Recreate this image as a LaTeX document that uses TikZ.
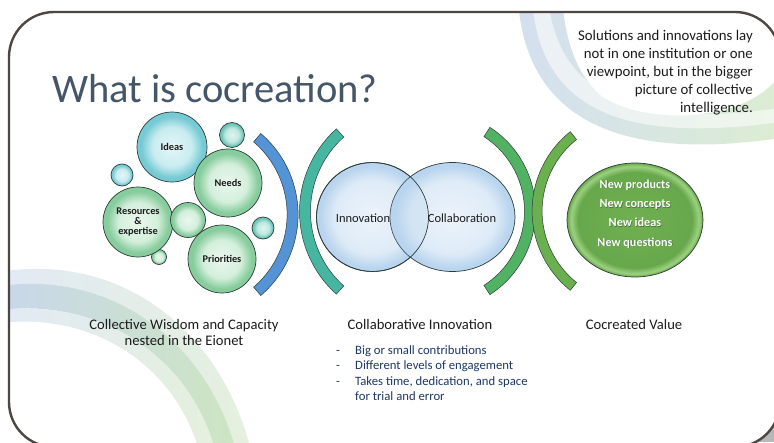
\documentclass[tikz,border=0pt]{standalone}
\usepackage{fontspec}
\setmainfont{Carlito}
\usetikzlibrary{shapes.geometric}
\definecolor{framec}{RGB}{77,70,66}
\definecolor{titlec}{RGB}{68,86,104}
\definecolor{navy}{RGB}{31,56,100}
\definecolor{txt}{RGB}{28,28,28}
\definecolor{edgec}{RGB}{45,62,58}
\definecolor{gA}{RGB}{234,247,238}
\definecolor{gB}{RGB}{212,239,220}
\definecolor{gC}{RGB}{134,204,156}
\definecolor{cA}{RGB}{228,246,248}
\definecolor{cB}{RGB}{200,236,240}
\definecolor{cC}{RGB}{118,202,212}
\definecolor{tA}{RGB}{224,245,241}
\definecolor{tB}{RGB}{190,232,224}
\definecolor{tC}{RGB}{108,196,182}
\definecolor{vA}{RGB}{236,243,251}
\definecolor{vB}{RGB}{222,235,247}
\definecolor{vC}{RGB}{184,212,238}
\definecolor{valA}{RGB}{112,176,82}
\definecolor{valB}{RGB}{104,168,76}
\definecolor{valC}{RGB}{156,208,128}
\definecolor{arcblue}{RGB}{84,148,214}
\definecolor{arcteal}{RGB}{70,182,160}
\definecolor{arcgreenA}{RGB}{82,178,100}
\definecolor{arcgreenB}{RGB}{106,176,78}
\definecolor{swb}{RGB}{226,234,245}
\definecolor{swbd}{RGB}{200,215,235}
\definecolor{swg}{RGB}{229,240,222}
\definecolor{swgd}{RGB}{205,229,194}
\definecolor{trb}{RGB}{212,223,239}
\definecolor{trg}{RGB}{220,237,211}
\pgfdeclareradialshading{bubG}{\pgfpointorigin}{color(0bp)=(gA); color(14bp)=(gB); color(22bp)=(gC); color(25bp)=(gC); color(50bp)=(gC)}
\pgfdeclareradialshading{bubC}{\pgfpointorigin}{color(0bp)=(cA); color(14bp)=(cB); color(22bp)=(cC); color(25bp)=(cC); color(50bp)=(cC)}
\pgfdeclareradialshading{bubT}{\pgfpointorigin}{color(0bp)=(tA); color(14bp)=(tB); color(22bp)=(tC); color(25bp)=(tC); color(50bp)=(tC)}
\pgfdeclareradialshading{vennS}{\pgfpointorigin}{color(0bp)=(vA); color(17bp)=(vB); color(23.5bp)=(vC); color(25bp)=(vC); color(50bp)=(vC)}
\pgfdeclareradialshading{valS}{\pgfpointorigin}{color(0bp)=(valA); color(21bp)=(valB); color(23.5bp)=(valC); color(25bp)=(valB); color(50bp)=(valB)}
\tikzset{
  bub/.style={circle, draw=edgec, line width=0.7pt, inner sep=0pt, shade, align=center,
    font=\fontsize{10.3}{10.3}\selectfont\bfseries, text=txt},
  bubg/.style={bub, shading=bubG},
  bubc/.style={bub, shading=bubC},
  bubt/.style={bub, shading=bubT},
  venn/.style={ellipse, draw=edgec, line width=0.7pt, inner sep=0pt, shade, shading=vennS},
  vtext/.style={font=\fontsize{12.5}{14}\selectfont, text=txt, inner sep=0pt},
  arcband/.style={draw=edgec, line width=0.5pt},
  label/.style={font=\fontsize{14.6}{15.5}\selectfont, text=txt, align=center, inner sep=0pt},
  bullet/.style={font=\fontsize{12.7}{15.6}\selectfont, text=navy, inner sep=0pt, align=left},
  valtext/.style={font=\fontsize{12.2}{19.3}\selectfont\bfseries, align=center, inner sep=0pt},
}
\begin{document}
\begin{tikzpicture}[x=1pt,y=-1pt]
\useasboundingbox (0,0) rectangle (774,442);
\fill[white] (0,0) rectangle (774,442);
\fill[black!28] (720,395) rectangle (774,442);
\fill[white, rounded corners=45] (9,12) rectangle (780,447);
% decorative swooshes
\begin{scope}
\clip[rounded corners=45] (9,12) rectangle (780,447);
% bottom-left
\shade[left color=swb, right color=swg] (0,272) .. controls (120,252) and (220,330) .. (250,447)
  -- (235,447) .. controls (205,340) and (110,270) .. (0,286) -- cycle;
\shade[left color=swbd, right color=swgd] (0,286) .. controls (110,270) and (205,340) .. (235,447)
  -- (214,447) .. controls (188,356) and (100,298) .. (0,310) -- cycle;
\shade[left color=swb, right color=swg] (0,310) .. controls (100,298) and (188,356) .. (214,447)
  -- (198,447) .. controls (173,366) and (95,312) .. (0,323) -- cycle;
% top-right
\shade[left color=trb, right color=trg] (518,0) .. controls (526,120) and (620,162) .. (780,138)
  -- (780,75) .. controls (745,125) and (640,125) .. (600,95) .. controls (578,75) and (566,45) .. (562,0) -- cycle;
\fill[white, opacity=0.55] (532,0) .. controls (540,105) and (615,145) .. (780,122)
  -- (780,108) .. controls (640,128) and (560,100) .. (548,0) -- cycle;
\end{scope}
\draw[framec, line width=2.4pt, rounded corners=45] (9,12) rectangle (780,447);
% title
\node[anchor=base west, inner sep=0pt, text=titlec, font=\fontsize{40.5}{48}\selectfont] (title) at (52,102) {What is cocreation?};
% quote
\node[anchor=north east, inner sep=0pt, align=right, text=txt, font=\fontsize{14.8}{17.8}\selectfont] (quote) at (753,30.5)
  {Solutions and innovations lay\\not in one institution or one\\viewpoint, but in the bigger\\picture of collective\\intelligence.};
% bubbles
\node[bubt, minimum size=25] (s1) at (232,135) {};
\node[bubc, minimum size=22] (s2) at (122,175) {};
\node[bubt, minimum size=22] (s4) at (263,228) {};
\node[bubg, minimum size=15] (s5) at (159,257) {};
\node[bubc, minimum size=70] (ideas) at (172,147) {Ideas};
\node[bubg, minimum size=68] (needs) at (228,183) {Needs};
\node[bubg, minimum size=70] (res) at (138,222) {Resources\\\&\\expertise};
\node[bubg, minimum size=35] (s3) at (188,220) {};
\node[bubg, minimum size=68] (prio) at (222,259) {Priorities};
% brackets
\begin{scope}[shift={(191.6,214.5)}]
\filldraw[arcband, fill=arcblue] (49.5:106.5) arc[start angle=49.5, end angle=-49.5, radius=106.5]
  -- (-49.5:95.5) arc[start angle=-49.5, end angle=49.5, radius=95.5] -- cycle;
\end{scope}
\begin{scope}[shift={(410.5,211.5)}]
\filldraw[arcband, fill=arcteal] (131.9:111) arc[start angle=131.9, end angle=228.1, radius=111]
  -- (228.1:100) arc[start angle=228.1, end angle=131.9, radius=100] -- cycle;
\end{scope}
\begin{scope}[shift={(436,211)}]
\filldraw[arcband, fill=arcgreenA] (57.2:99.5) arc[start angle=57.2, end angle=-57.2, radius=99.5]
  -- (-57.2:88.5) arc[start angle=-57.2, end angle=57.2, radius=88.5] -- cycle;
\end{scope}
\begin{scope}[shift={(633.6,211)}]
\filldraw[arcband, fill=arcgreenB] (128.6:101.5) arc[start angle=128.6, end angle=231.4, radius=101.5]
  -- (231.4:91.5) arc[start angle=231.4, end angle=128.6, radius=91.5] -- cycle;
\end{scope}
% Venn
\node[venn, minimum width=112, minimum height=109] (inno) at (372.5,217) {};
\node[venn, minimum width=125, minimum height=109] (coll) at (452.5,217) {};
\begin{scope}
\clip (372.5,217) ellipse [x radius=56, y radius=54.5];
\fill[vC, opacity=0.3] (452.5,217) ellipse [x radius=62.5, y radius=54.5];
\end{scope}
\draw[edgec, line width=0.7pt] (372.5,217) ellipse [x radius=56, y radius=54.5];
\node[vtext] (innot) at (363,218) {Innovation};
\node[vtext] (collt) at (462,218) {Collaboration};
% cocreated value
\node[ellipse, draw=edgec, line width=0.7pt, shade, shading=valS, minimum width=136, minimum height=114, inner sep=0pt] (val) at (635,220) {};
\node[valtext, text=black!60!valB, opacity=0.5] (valsh) at (635.6,214.6) {New products\\New concepts\\New ideas\\New questions};
\node[valtext, text=white] (valt) at (635,214) {New products\\New concepts\\New ideas\\New questions};
% bottom labels
\node[label] (l1) at (184,332.5) {Collective Wisdom and Capacity\\nested in the Eionet};
\node[label] (l2) at (420,324) {Collaborative Innovation};
\node[label] (l3) at (634,324) {Cocreated Value};
\node[bullet, anchor=base] (d1) at (338,354) {-};
\node[bullet, anchor=base] (d2) at (338,369.6) {-};
\node[bullet, anchor=base] (d3) at (338,385.2) {-};
\node[bullet, anchor=base west] (b1) at (355,354) {Big or small contributions};
\node[bullet, anchor=base west] (b2) at (355,369.6) {Different levels of engagement};
\node[bullet, anchor=north west] (b3) at (355,376) {Takes time, dedication, and space\\for trial and error};
\end{tikzpicture}
\end{document}
